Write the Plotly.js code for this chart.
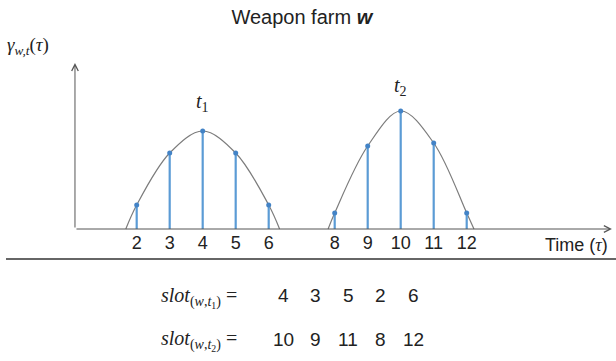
<!DOCTYPE html>
<html>
<head>
<meta charset="utf-8">
<script src="https://cdn.plot.ly/plotly-3.0.1.min.js"></script>
<style>
  html, body { margin: 0; padding: 0; background: #fff; }
  #chart { width: 616px; height: 361px; }
</style>
</head>
<body>
<div id="chart"></div>
<script>
// Time slots and the sampled intensity around each of the two peaks
const tauT1 = [2, 3, 4, 5, 6];
const gammaT1 = [0.24, 0.76, 0.98, 0.76, 0.24];
const tauT2 = [8, 9, 10, 11, 12];
const gammaT2 = [0.16, 0.83, 1.18, 0.86, 0.16];

// Where each bell curve meets the time axis
const curveT1Ends = [1.67, 6.33];
const curveT2Ends = [7.8, 12.22];

// Slots ordered by intensity for each peak
const slotT1 = [4, 3, 5, 2, 6];
const slotT2 = [10, 9, 11, 8, 12];

const tickVals = tauT1.concat(tauT2);

const sans = 'Liberation Sans, Arial, sans-serif';
const serif = 'Liberation Serif, Times New Roman, serif';
const stemColor = '#5b9bd5';
const dotColor = '#4383c6';
const curveColor = '#7c7c7c';

function curveTrace(xs, ys, ends) {
  return {
    type: 'scatter', mode: 'lines',
    x: [ends[0]].concat(xs, [ends[1]]),
    y: [0].concat(ys, [0]),
    line: { color: curveColor, width: 1.2, shape: 'spline', smoothing: 1 },
    hoverinfo: 'skip', showlegend: false
  };
}

function stemTrace(xs, ys) {
  return {
    type: 'scatter', mode: 'markers',
    x: xs, y: ys,
    marker: { size: 5, color: dotColor },
    error_y: {
      type: 'data', symmetric: false,
      array: ys.map(() => 0), arrayminus: ys,
      width: 0, thickness: 2.2, color: stemColor
    },
    showlegend: false
  };
}

const traces = [
  curveTrace(tauT1, gammaT1, curveT1Ends),
  curveTrace(tauT2, gammaT2, curveT2Ends),
  stemTrace(tauT1, gammaT1),
  stemTrace(tauT2, gammaT2)
];

const W = 616, H = 361;
const px = v => v / W;

const annotations = [
  // axis arrows
  { x: 16.4, y: 0, ax: 0.13, ay: 0, axref: 'x', ayref: 'y', xref: 'x', yref: 'y',
    text: '', showarrow: true, arrowhead: 5, arrowsize: 1.3, arrowwidth: 1, arrowcolor: '#555' },
  { x: 0.13, y: 1.66, ax: 0.13, ay: 0, axref: 'x', ayref: 'y', xref: 'x', yref: 'y',
    text: '', showarrow: true, arrowhead: 5, arrowsize: 1.3, arrowwidth: 1, arrowcolor: '#555' },
  // y label
  { xref: 'paper', yref: 'paper', x: px(5), y: 1 - 46 / H, xanchor: 'left', yanchor: 'middle',
    text: '<i>γ</i><sub><i>w,t</i></sub>(<i>τ</i>)', showarrow: false,
    font: { family: serif, size: 19, color: '#222' } },
  // peak labels
  { xref: 'x', yref: 'y', x: tauT1[2], y: 1.27, text: '<i>t</i><sub>1</sub>', showarrow: false,
    font: { family: serif, size: 20, color: '#222' } },
  { xref: 'x', yref: 'y', x: tauT2[2], y: 1.43, text: '<i>t</i><sub>2</sub>', showarrow: false,
    font: { family: serif, size: 20, color: '#222' } },
  // x label
  { xref: 'paper', yref: 'paper', x: px(610), y: 1 - 245 / H, xanchor: 'right', yanchor: 'middle',
    text: 'Time (<span style="font-family:Liberation Serif;font-style:italic">τ</span>)', showarrow: false,
    font: { family: sans, size: 18, color: '#222' } },
  // slot rows
  { xref: 'paper', yref: 'paper', x: px(239), y: 1 - 297 / H, xanchor: 'right', yanchor: 'middle',
    text: '<i>slot</i><sub>(<i>w</i>,<i>t</i><sub>1</sub>)</sub> =', showarrow: false,
    font: { family: serif, size: 20, color: '#222' } },
  { xref: 'paper', yref: 'paper', x: px(239), y: 1 - 340 / H, xanchor: 'right', yanchor: 'middle',
    text: '<i>slot</i><sub>(<i>w</i>,<i>t</i><sub>2</sub>)</sub> =', showarrow: false,
    font: { family: serif, size: 20, color: '#222' } }
];

function slotRow(values, yPix) {
  values.forEach((v, i) => {
    annotations.push({
      xref: 'paper', yref: 'paper', x: px(283 + i * 32.5), y: 1 - yPix / H,
      xanchor: 'center', yanchor: 'middle', text: String(v), showarrow: false,
      font: { family: sans, size: 19, color: '#222' }
    });
  });
}
slotRow(slotT1, 295);
slotRow(slotT2, 339);

const layout = {
  width: W, height: H,
  margin: { l: 0, r: 0, t: 0, b: 0, pad: 0 },
  paper_bgcolor: '#fff', plot_bgcolor: '#fff',
  title: {
    text: 'Weapon farm <b><i>w</i></b>',
    font: { family: sans, size: 20, color: '#222' },
    x: 0.49, xanchor: 'center', xref: 'paper',
    y: 1 - 17 / H, yanchor: 'middle', yref: 'container'
  },
  xaxis: {
    range: [-2.142, 16.524], anchor: 'free', position: (H - 229) / H,
    showline: false, showgrid: false, zeroline: false, ticks: '',
    ticklabelstandoff: 1,
    tickmode: 'array', tickvals: tickVals, ticktext: tickVals.map(String),
    tickfont: { family: sans, size: 18, color: '#222' }
  },
  yaxis: { range: [-1.32, 2.29], visible: false },
  shapes: [
    { type: 'line', xref: 'paper', yref: 'y', x0: px(6), x1: 1, y0: -0.30, y1: -0.30,
      line: { color: '#666', width: 2 } }
  ],
  annotations: annotations,
  showlegend: false
};

Plotly.newPlot('chart', traces, layout, { staticPlot: true, displayModeBar: false });
</script>
</body>
</html>
